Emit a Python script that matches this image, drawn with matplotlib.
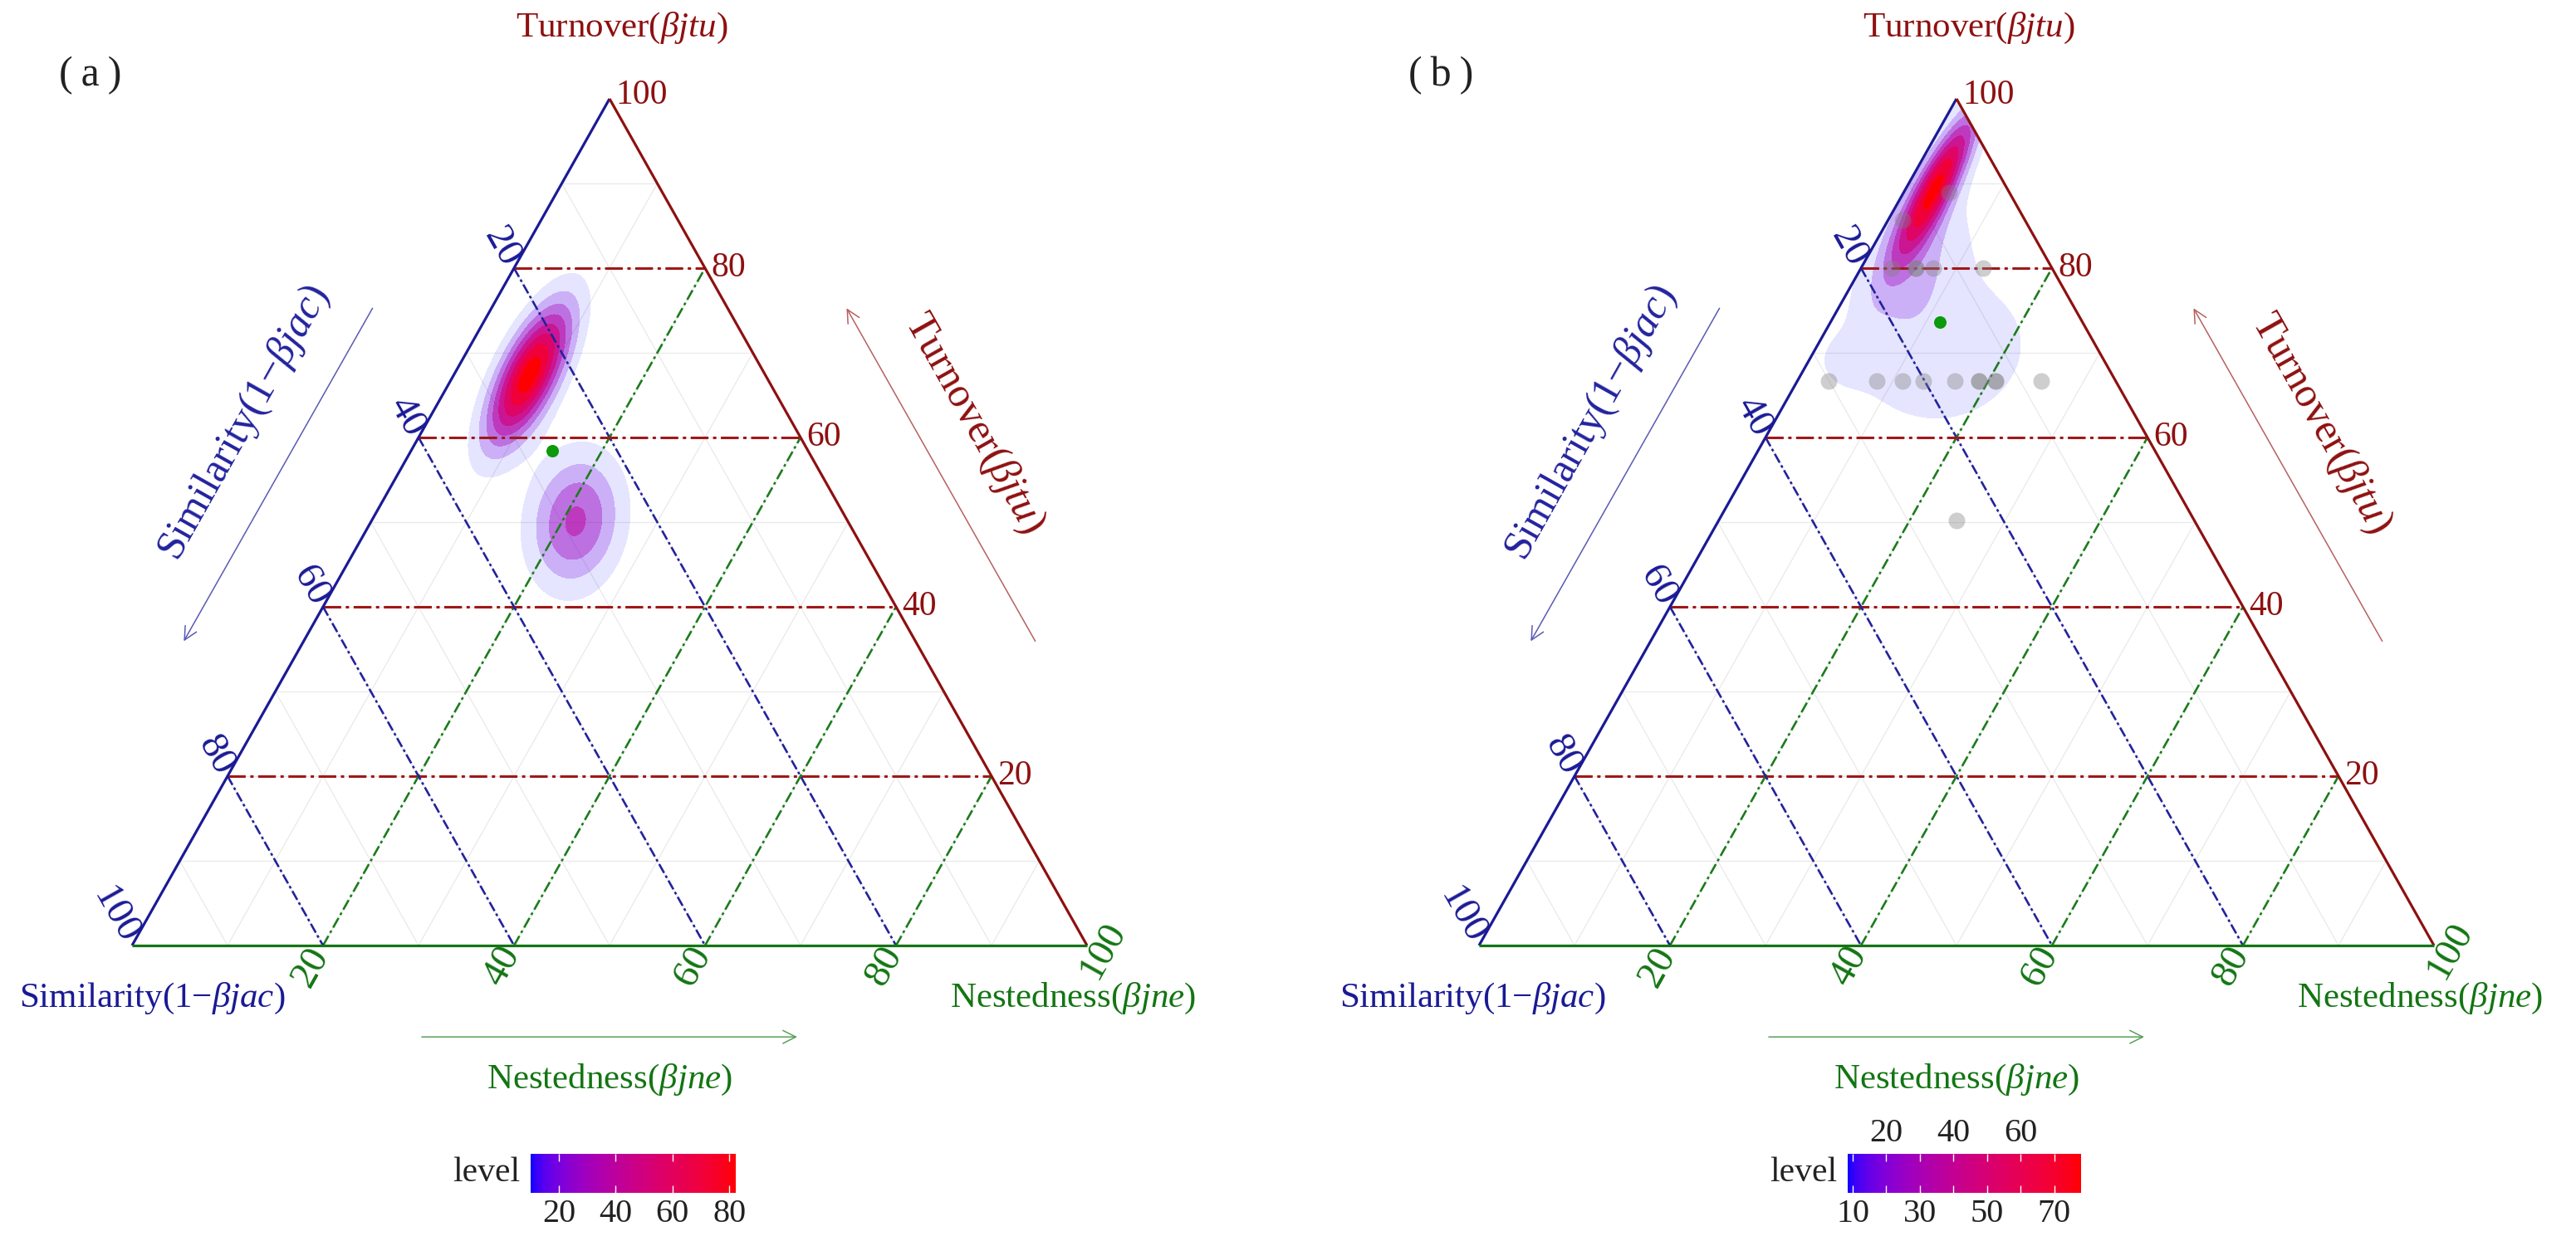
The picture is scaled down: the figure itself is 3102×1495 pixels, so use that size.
import numpy as np
import matplotlib
matplotlib.use("Agg")
import matplotlib.pyplot as plt
from matplotlib.colors import ListedColormap, Normalize
from matplotlib.cm import ScalarMappable
from matplotlib.path import Path
from matplotlib.transforms import blended_transform_factory

plt.rcParams["font.family"] = ["Liberation Serif", "DejaVu Sans"]
plt.rcParams["mathtext.fontset"] = "custom"
plt.rcParams["mathtext.rm"] = "Liberation Serif"
plt.rcParams["mathtext.it"] = "Liberation Serif:italic"

# ---------------- data ----------------
axis_ticks = [20, 40, 60, 80, 100]
grid_minor = [10, 20, 30, 40, 50, 60, 70, 80, 90]
grid_major = [20, 40, 60, 80]

# density blobs: centre (turnover %, nestedness %),
# spread along / across the long axis (fraction of a side), tilt (deg), peak level
a_turn = [67.4, 50.1]
a_nest = [7.9, 21.4]
a_sd_long = [0.055, 0.048]
a_sd_short = [0.0200, 0.033]
a_tilt = [63, 80]
a_peak = [88.0, 43.0]
a_levels = [10.1, 20.4, 30.7, 41.0, 51.4, 61.7, 72.0, 82.3]
a_mean = (58.4, 14.8)
a_cbar_ticks = [20, 40, 60, 80]

b_turn = [90.0, 82.0, 70.0, 69.0]
b_nest = [3.0, 4.5, 14.0, 3.2]
b_sd_long = [0.058, 0.06, 0.085, 0.022]
b_sd_short = [0.013, 0.034, 0.07, 0.022]
b_tilt = [62, 70, 20, 0]
b_peak = [72.0, 18.0, 13.0, 5.0]
b_levels = [8.5, 18.4, 28.4, 38.3, 48.2, 58.2, 68.1, 78.0]
b_mean = (73.6, 11.5)
b_cbar_ticks = [10, 20, 30, 40, 50, 60, 70]

# sites shown in (b)
b_site_turn = [88.9, 85.7, 80.0, 80.0, 80.0, 80.0, 80.0,
               66.7, 66.7, 66.7, 66.7, 66.7, 66.7, 66.7, 66.7, 66.7, 66.7, 50.2]
b_site_nest = [4.8, 1.5, 3.2, 5.7, 5.7, 7.6, 12.8,
               3.3, 8.3, 11.0, 13.2, 16.5, 19.0, 19.0, 20.7, 20.7, 25.5, 24.9]

# ---------------- style ----------------
BLUE = "#1a1a96"
RED = "#8e1010"
GREEN = "#137513"
BLUE_L = "#22229e"
RED_L = "#a01818"
GREEN_L = "#1c7c1c"
GRID = "#e9e9e9"
FS = 30
FS_ROT = 34
FS_ARR = 36

W, H = 3102, 1495
fig = plt.figure(figsize=(W / 100, H / 100), dpi=100)


def px_axes(x0, y0, x1, y1):
    return fig.add_axes([x0 / W, 1 - y1 / H, (x1 - x0) / W, (y1 - y0) / H])


def lab_ramp(c0, c1, n=256):
    M = np.array([[0.4124, 0.3576, 0.1805],
                  [0.2126, 0.7152, 0.0722],
                  [0.0193, 0.1192, 0.9505]])
    wp = np.array([0.95047, 1.0, 1.08883])

    def to_lab(rgb):
        rgb = np.asarray(rgb, float)
        lin = np.where(rgb <= 0.04045, rgb / 12.92, ((rgb + 0.055) / 1.055) ** 2.4)
        xyz = M @ lin / wp
        f = np.where(xyz > 0.008856, np.cbrt(xyz), 7.787 * xyz + 16 / 116)
        return np.array([116 * f[1] - 16, 500 * (f[0] - f[1]), 200 * (f[1] - f[2])])

    l0, l1 = to_lab(c0), to_lab(c1)
    t = np.linspace(0, 1, n)[:, None]
    lab = l0 * (1 - t) + l1 * t
    fy = (lab[:, 0] + 16) / 116
    f = np.stack([fy + lab[:, 1] / 500, fy, fy - lab[:, 2] / 200], axis=1)
    xyz = np.where(f > 0.2069, f ** 3, (f - 16 / 116) / 7.787) * wp
    lin = np.clip(xyz @ np.linalg.inv(M).T, 0, 1)
    rgb = np.where(lin <= 0.0031308, 12.92 * lin, 1.055 * lin ** (1 / 2.4) - 0.055)
    return ListedColormap(np.clip(rgb, 0, 1))


cmap = lab_ramp([0, 0, 1], [1, 0, 0])

SQ3 = np.sqrt(3) / 2
ANG = np.degrees(np.arctan2(1020, 575))
ux, uy = np.cos(np.radians(ANG)), np.sin(np.radians(ANG))
TRI = Path([(0, 0), (1, 0), (0.5, 1), (0, 0)])

gx, gy = np.meshgrid(np.linspace(0, 1, 600), np.linspace(0, 1, 600))


def tern(t, n):
    t = np.asarray(t, float) / 100
    n = np.asarray(n, float) / 100
    return n + t / 2, t


def density(turn, nest, sd_long, sd_short, tilt, peak):
    Z = np.zeros_like(gx)
    for t, n, s1, s2, ang, p in zip(turn, nest, sd_long, sd_short, tilt, peak):
        xc, yc = tern(t, n)
        dx = gx - xc
        dy = (gy - yc) * SQ3
        c, s = np.cos(np.radians(ang)), np.sin(np.radians(ang))
        u = dx * c + dy * s
        v = -dx * s + dy * c
        Z += p * np.exp(-0.5 * ((u / s1) ** 2 + (v / s2) ** 2))
    return Z


def seg(ax, p, q, **kw):
    ax.plot([p[0], q[0]], [p[1], q[1]], solid_capstyle="butt", **kw)


def draw_panel(x0, Z, levels, mean, sim_x, tag, tag_xy):
    ax = px_axes(x0, 119, x0 + 1150, 1139)
    ax.set_xlim(0, 1)
    ax.set_ylim(0, 1)
    ax.set_axis_off()

    # light grid
    for v in grid_minor:
        f = v / 100
        kw = dict(color=GRID, lw=0.9, zorder=1)
        seg(ax, (f / 2, f), (1 - f / 2, f), **kw)
        seg(ax, ((1 - f) / 2, 1 - f), (1 - f, 0), **kw)
        seg(ax, (f, 0), (f + (1 - f) / 2, 1 - f), **kw)

    # density polygons, stacked with alpha growing with level
    norm = Normalize(levels[0], levels[-1])
    zmax = Z.max()
    for lev in levels:
        if lev >= zmax:
            continue
        cs = ax.contourf(gx, gy, Z, levels=[lev, zmax * 1.01],
                         colors=[cmap(norm(lev))], alpha=0.1 + 0.9 * norm(lev), zorder=2)
        cs.set_clip_path(TRI, ax.transData)

    # major dashed grid
    for v in grid_major:
        f = v / 100
        seg(ax, (f / 2, f), (1 - f / 2, f), color=RED_L, lw=2.2,
            ls=(0, (7, 1.8, 1.3, 1.8)), zorder=3)
        seg(ax, ((1 - f) / 2, 1 - f), (1 - f, 0), color=BLUE_L, lw=1.9,
            ls=(0, (4.6, 1.4, 1.2, 1.4)), zorder=3)
        seg(ax, (f, 0), (f + (1 - f) / 2, 1 - f), color=GREEN_L, lw=1.9,
            ls=(0, (5.0, 1.6, 1.2, 1.6)), zorder=3)

    # triangle edges
    seg(ax, (0, 0), (0.5, 1), color=BLUE, lw=2.3, zorder=4, clip_on=False)
    seg(ax, (0.5, 1), (1, 0), color=RED, lw=2.3, zorder=4, clip_on=False)
    seg(ax, (0, 0), (1, 0), color=GREEN, lw=2.3, zorder=4, clip_on=False)

    # tick labels
    for v in axis_ticks:
        f = v / 100
        ax.annotate(str(v), ((1 - f) / 2, 1 - f), xytext=(-ux * 4, uy * 4),
                    textcoords="offset points", rotation=-ANG, rotation_mode="anchor",
                    ha="right", va="center", color=BLUE, fontsize=FS_ROT)
        ax.annotate(str(v), (1 - f / 2, f), xytext=(5, 3 if v == 100 else 0),
                    textcoords="offset points", ha="left", va="center",
                    color=RED, fontsize=FS)
        if v < 100:
            ax.annotate(str(v), (f, 0), xytext=(-ux * 4, -uy * 4),
                        textcoords="offset points", rotation=ANG, rotation_mode="anchor",
                        ha="right", va="center", color=GREEN, fontsize=FS_ROT)
        else:
            ax.annotate(str(v), (1, 0), xytext=(14, -4),
                        textcoords="offset points", rotation=ANG, rotation_mode="anchor",
                        ha="center", va="center", color=GREEN, fontsize=FS_ROT)

    # vertex titles
    ax.text(0.513, 1.083, "Turnover($\\mathit{βjtu}$)", color=RED, fontsize=FS + 1,
            ha="center", va="center")
    ax.text(sim_x, -0.063, "Similarity(1−$\\mathit{βjac}$)", color=BLUE, fontsize=FS + 1,
            ha="center", va="center")
    ax.text(0.985, -0.063, "Nestedness($\\mathit{βjne}$)", color=GREEN, fontsize=FS + 1,
            ha="center", va="center")

    # arrows along the sides
    ax.annotate("", xy=(0.053, 0.357), xytext=(0.253, 0.755), annotation_clip=False,
                arrowprops=dict(arrowstyle="->", color="#5a5ab4", lw=1.1, mutation_scale=28))
    ax.annotate("", xy=(0.747, 0.755), xytext=(0.947, 0.357), annotation_clip=False,
                arrowprops=dict(arrowstyle="->", color="#b86060", lw=1.1, mutation_scale=28))
    ax.annotate("", xy=(0.699, -0.108), xytext=(0.301, -0.108), annotation_clip=False,
                arrowprops=dict(arrowstyle="->", color="#5aa05a", lw=1.1, mutation_scale=28))
    ax.text(0.1178, 0.617, "Similarity(1−$\\mathit{βjac}$)", color=BLUE_L, fontsize=FS_ARR,
            rotation=ANG, ha="center", va="center", rotation_mode="anchor")
    ax.text(0.8822, 0.617, "Turnover($\\mathit{βjtu}$)", color=RED, fontsize=FS_ARR,
            rotation=-ANG, ha="center", va="center", rotation_mode="anchor")
    ax.text(0.5, -0.159, "Nestedness($\\mathit{βjne}$)", color=GREEN, fontsize=FS + 1,
            ha="center", va="center")

    mx, my = tern(*mean)
    ax.scatter([mx], [my], s=117, color="#0a9a0a", zorder=6, linewidths=0)

    fig.text(tag_xy[0] / W, 1 - tag_xy[1] / H, tag, fontsize=FS + 6,
             ha="center", va="center", color="#222222")
    return ax


Za = density(a_turn, a_nest, a_sd_long, a_sd_short, a_tilt, a_peak)
Zb = density(b_turn, b_nest, b_sd_long, b_sd_short, b_tilt, b_peak)

ax_a = draw_panel(159, Za, a_levels, a_mean, 0.021, "(\u2009a\u2009)", (109, 91))
ax_b = draw_panel(1781, Zb, b_levels, b_mean, -0.007, "(\u2009b\u2009)", (1735, 91))

sx, sy = tern(b_site_turn, b_site_nest)
ax_b.scatter(sx, sy, s=207, color="#7f7f7f", alpha=0.38, linewidths=0, zorder=5)


def colorbar(x0, x1, levels, ticks, split):
    cax = px_axes(x0, 1390, x1, 1437)
    norm = Normalize(levels[0], levels[-1])
    cb = fig.colorbar(ScalarMappable(norm=norm, cmap=cmap), cax=cax, orientation="horizontal")
    cb.outline.set_visible(False)
    cb.set_ticks(ticks)
    if split:
        cb.set_ticklabels([str(t) if i % 2 == 0 else "" for i, t in enumerate(ticks)])
        tr = blended_transform_factory(cax.transData, cax.transAxes)
        for i, t in enumerate(ticks):
            if i % 2 == 1:
                cax.text(t, 1.12, str(t), transform=tr, ha="center", va="bottom",
                         fontsize=FS - 1, color="#222222")
    cax.tick_params(axis="x", direction="in", length=6.5, width=1.0, color="white",
                    top=True, bottom=True, labelsize=FS - 1, labelcolor="#222222", pad=5)
    fig.text((x0 - 13) / W, 1 - 1413 / H, "level", fontsize=FS, ha="right", va="center",
             color="#222222")


colorbar(639, 886, a_levels, a_cbar_ticks, False)
colorbar(2225, 2506, b_levels, b_cbar_ticks, True)

fig.savefig("out.png", dpi=100, facecolor="white")
